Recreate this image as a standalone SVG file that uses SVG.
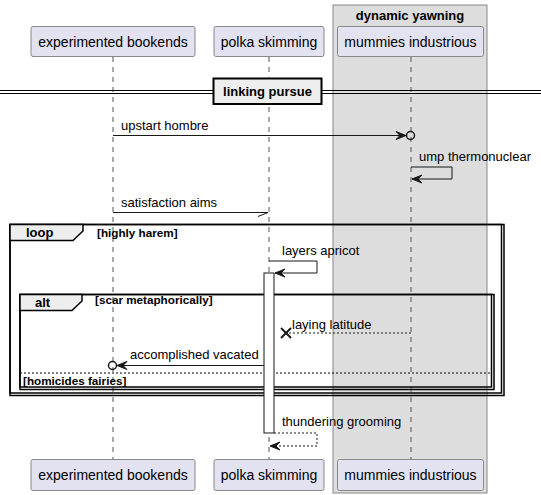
<svg xmlns="http://www.w3.org/2000/svg" width="541" height="495" viewBox="0 0 541 495">
<defs>
<style>
text{font-family:"Liberation Sans",Arial,sans-serif;fill:#000}
.pbox{fill:#E2E2F0;stroke:#888;stroke-width:1}
.pt{font-size:14px;text-anchor:middle}
.life{stroke:#555;stroke-width:1;stroke-dasharray:5,5}
.msg{font-size:13px}
.ln{stroke:#181818;stroke-width:1;fill:none}
.dash{stroke-dasharray:2,2}
.head{fill:#181818;stroke:#181818}
.frame{fill:none;stroke:#000;stroke-width:1.5}
.tab{fill:#EEEEEE;stroke:#000;stroke-width:1.5}
.bold13{font-size:13px;font-weight:bold}
.cond{font-size:11.7px;font-weight:bold}
</style>
</defs>
<g id="box-dynamic-yawning">
<rect x="333" y="5" width="154" height="488" fill="#DDDDDD" stroke="#888" stroke-width="1"/>
<text x="410" y="20" class="bold13" text-anchor="middle">dynamic yawning</text>
</g>
<g id="lifelines">
<line class="life" x1="113" y1="57" x2="113" y2="460"/>
<line class="life" x1="269" y1="57" x2="269" y2="460"/>
<line class="life" x1="411" y1="57" x2="411" y2="460"/>
</g>
<g id="p-experimented-bookends">
<rect class="pbox" x="31" y="26.5" width="164" height="30" rx="2"/>
<text class="pt" x="113" y="46.5">experimented bookends</text>
<rect class="pbox" x="31" y="459.5" width="164" height="31" rx="2"/>
<text class="pt" x="113" y="480">experimented bookends</text>
</g>
<g id="p-polka-skimming">
<rect class="pbox" x="214" y="26.5" width="110" height="30" rx="2"/>
<text class="pt" x="269" y="46.5">polka skimming</text>
<rect class="pbox" x="214" y="459.5" width="110" height="31" rx="2"/>
<text class="pt" x="269" y="480">polka skimming</text>
</g>
<g id="p-mummies-industrious">
<rect class="pbox" x="337.5" y="26.5" width="146" height="30" rx="2"/>
<text class="pt" x="410.5" y="46.5">mummies industrious</text>
<rect class="pbox" x="337.5" y="459.5" width="146" height="31" rx="2"/>
<text class="pt" x="410.5" y="480">mummies industrious</text>
</g>
<g id="divider-linking-pursue">
<line x1="0" y1="90.5" x2="541" y2="90.5" stroke="#000" stroke-width="1"/>
<line x1="0" y1="93.5" x2="541" y2="93.5" stroke="#000" stroke-width="1"/>
<rect x="213.5" y="78.5" width="108" height="25.5" fill="#EEEEEE" stroke="#000" stroke-width="2"/>
<text x="267.5" y="96" class="bold13" text-anchor="middle">linking pursue</text>
</g>
<g id="frame-loop">
<rect class="frame" x="10" y="224.5" width="494" height="171"/>
<rect class="frame" x="10" y="224.5" width="491.5" height="168.5"/>
<path class="tab" d="M10,224.5 L83,224.5 L83,231 L73,240.5 L10,240.5 Z"/>
<text x="26" y="237" class="bold13">loop</text>
<text x="97" y="237" class="cond">[highly harem]</text>
</g>
<g id="frame-alt">
<rect class="frame" x="20" y="294.5" width="474" height="95"/>
<rect class="frame" x="20" y="294.5" width="471.5" height="92.5"/>
<path class="tab" d="M20,294.5 L82,294.5 L82,301 L72,310.5 L20,310.5 Z"/>
<text x="35" y="307" class="bold13">alt</text>
<text x="95" y="304" class="cond">[scar metaphorically]</text>
<line x1="20" y1="373" x2="491" y2="373" stroke="#000" stroke-width="1" stroke-dasharray="2,2"/>
<text x="23" y="385" class="cond">[homicides fairies]</text>
</g>
<g id="activation">
<rect x="264" y="273" width="10" height="160" fill="#FFFFFF" stroke="#181818" stroke-width="1"/>
</g>
<g id="connectors">
<line class="ln" x1="113" y1="135.5" x2="405" y2="135.5"/>
<polygon class="head" points="406,135.5 396,131.5 400,135.5 396,139.5"/>
<circle cx="410.5" cy="135.5" r="4" fill="none" stroke="#181818" stroke-width="1.5"/>
<text class="msg" x="121" y="130">upstart hombre</text>

<polyline class="ln" points="411,167 452,167 452,179 412,179"/>
<polygon class="head" points="412,179 422,175 418,179 422,183"/>
<text class="msg" x="419" y="161">ump thermonuclear</text>

<line class="ln" x1="113" y1="212.5" x2="268" y2="212.5"/>
<line class="ln" x1="268" y1="212.5" x2="258" y2="216.5"/>
<text class="msg" x="121" y="207">satisfaction aims</text>

<polyline class="ln" points="269,261 317,261 317,273 275,273"/>
<polygon class="head" points="275,273 285,269 281,273 285,277"/>
<text class="msg" x="282" y="255">layers apricot</text>

<line class="ln dash" x1="411" y1="333" x2="288" y2="333"/>
<line x1="281" y1="328" x2="291" y2="338" stroke="#181818" stroke-width="2"/>
<line x1="281" y1="338" x2="291" y2="328" stroke="#181818" stroke-width="2"/>
<text class="msg" x="292" y="329">laying latitude</text>

<line class="ln" x1="264" y1="365.5" x2="118" y2="365.5"/>
<polygon class="head" points="117,365.5 127,361.5 123,365.5 127,369.5"/>
<circle cx="112.5" cy="365.5" r="4" fill="none" stroke="#181818" stroke-width="1.5"/>
<text class="msg" x="130" y="359">accomplished vacated</text>

<polyline class="ln dash" points="274,433 317,433 317,446 270,446"/>
<polygon class="head" points="270,446 280,442 276,446 280,450"/>
<text class="msg" x="282" y="426">thundering grooming</text>
</g>
</svg>
